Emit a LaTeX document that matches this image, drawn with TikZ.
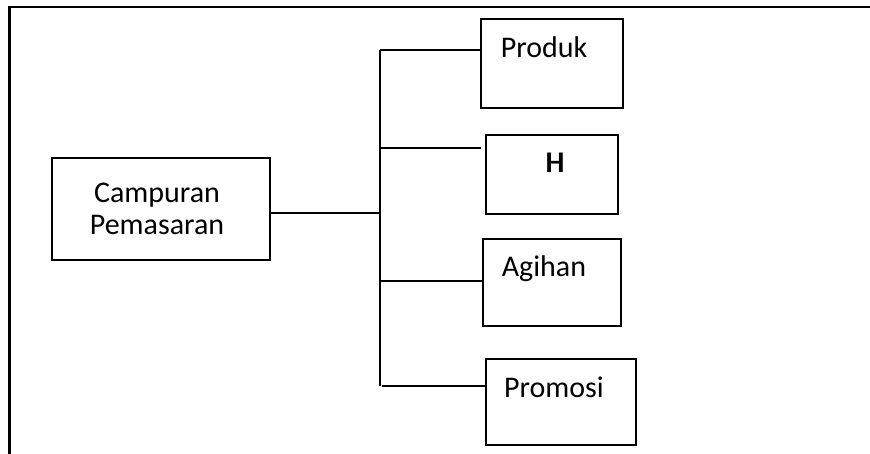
\documentclass[tikz,border=0pt]{standalone}
\usepackage{fontspec}
\setmainfont{Carlito}
\begin{document}
\begin{tikzpicture}[x=1pt,y=-1pt,
  box/.style={draw,line width=1.3pt,rectangle,inner sep=0pt},
  lbl/.style={inner sep=0pt,font=\fontsize{30}{32}\selectfont},
  conn/.style={line width=1.3pt}]
\useasboundingbox (0,0) rectangle (870,454);
% frame
\draw[line width=2.6pt] (9.5,454) -- (9.5,7) -- (870,7);
% boxes
\node[box,minimum width=218pt,minimum height=102pt] (camp) at (161,209) {};
\node[box,minimum width=142pt,minimum height=89pt] (prod) at (552,63.5) {};
\node[box,minimum width=132pt,minimum height=79pt] (harga) at (552,174.5) {};
\node[box,minimum width=138pt,minimum height=87pt] (agih) at (552,282.5) {};
\node[box,minimum width=150pt,minimum height=86pt] (prom) at (561,402) {};
% labels
\node[lbl,align=center] (tcamp) at (157,209) {Campuran\\Pemasaran};
\node[lbl,anchor=base] (tprod) at (544,58) {Produk};
\node[lbl,anchor=base,font=\fontsize{30}{32}\selectfont\bfseries] (tharga) at (555,173) {H};
\node[lbl,anchor=base] (tagih) at (544,277) {Agihan};
\node[lbl,anchor=base] (tprom) at (554,397) {Promosi};
% connectors
\coordinate (jc) at (380,213);
\coordinate (top) at (380,50);
\coordinate (bot) at (380,386);
\coordinate (j1) at (380,50);
\coordinate (j2) at (380,148);
\coordinate (j3) at (380,281);
\coordinate (j4) at (382,386);
\coordinate (hend) at (481,148);
\draw[conn] (camp.east |- jc) -- (jc);
\draw[conn] (top) -- (bot);
\draw[conn] (j1) -- (prod.west |- j1);
\draw[conn] (j2) -- (hend);
\draw[conn] (j3) -- (agih.west |- j3);
\draw[conn] (j4) -- (prom.west |- j4);
\end{tikzpicture}
\end{document}
